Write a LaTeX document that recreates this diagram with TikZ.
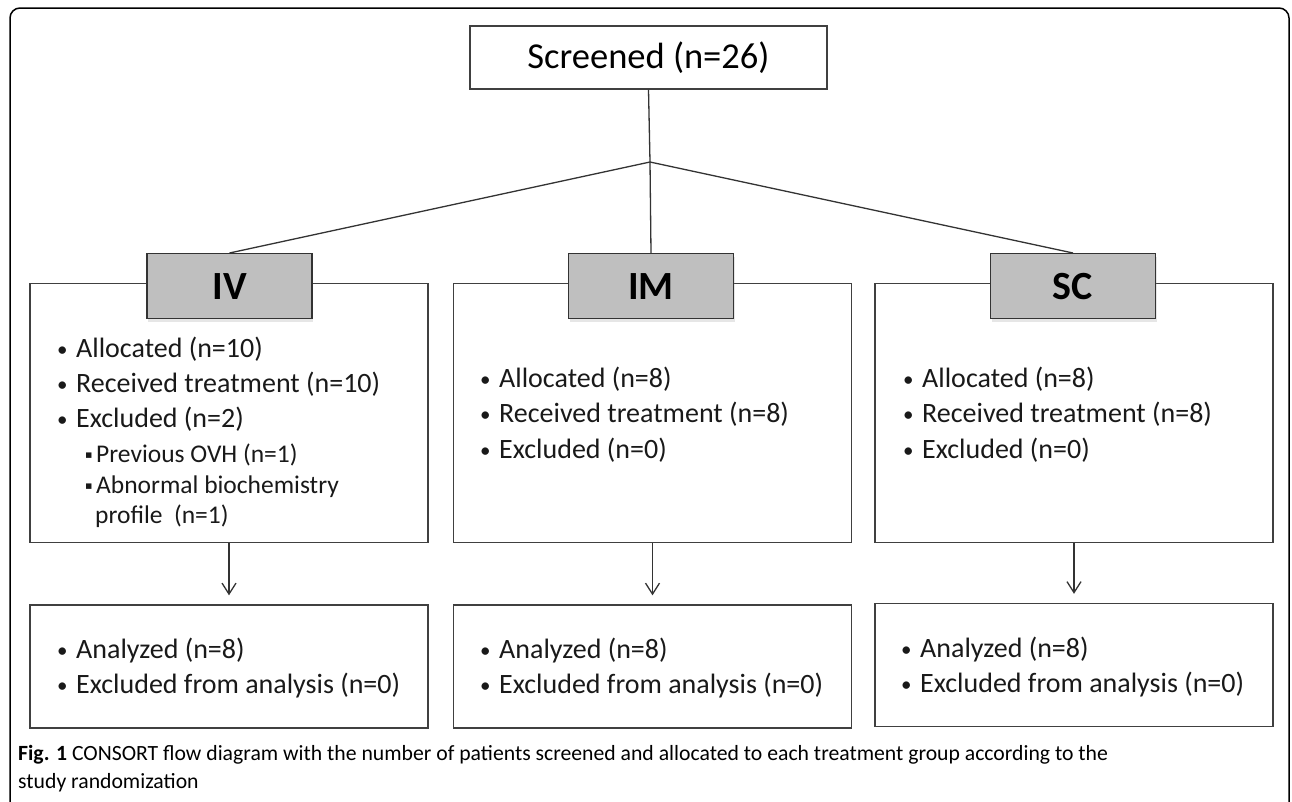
\documentclass[tikz,border=0pt]{standalone}
\usepackage{fontspec}
\setmainfont{Carlito}
\newfontfamily\symfont{DejaVu Sans}
\usetikzlibrary{arrows.meta,shadows}

\newcommand\itembul{\makebox[19pt][l]{\raisebox{1pt}{\scalebox{0.75}{\textbullet}}}}
\newcommand\subbul{\makebox[11pt][l]{\raisebox{4pt}{\symfont\fontsize{11}{11}\selectfont ▪}}}

\tikzset{
  box/.style={draw=black!75, line width=1.4pt, minimum width=398pt, inner sep=0pt},
  group/.style={box, minimum height=259pt},
  result/.style={box, minimum height=123pt},
  head/.style={draw=black!80, line width=1.4pt, fill=black!25, minimum width=165pt,
    minimum height=65pt, font=\fontsize{40}{40}\selectfont\bfseries,
    drop shadow={shadow xshift=1pt, shadow yshift=-3pt, opacity=0.2}},
  item/.style={anchor=base west, inner sep=0pt, text=black!90, font=\fontsize{28}{30}\selectfont},
  subitem/.style={item, font=\fontsize{25.5}{26}\selectfont},
  caption/.style={item, text=black, font=\fontsize{21.7}{22}\selectfont},
  link/.style={draw=black!80, line width=1.3pt},
}

\begin{document}
\begin{tikzpicture}[x=1pt, y=-1pt]
    \useasboundingbox (0,0) rectangle (1292,801);
    \clip (0,0) rectangle (1292,801);
    % outer frame
    \draw[line width=1.5pt, rounded corners=10pt] (10,8) rectangle (1289,815);

    % Screening
    \node[box, minimum width=357pt, minimum height=63pt, font=\fontsize{36.5}{36}\selectfont] (screen) at (648.5,57.5) {Screened (n=26)};
    \coordinate (split) at (650,162);

    % Group boxes
    \node[group] (ivbox) at (229,413) {};
    \node[group] (imbox) at (652.5,413) {};
    \node[group] (scbox) at (1074,413) {};

    % Branches
    \draw[link] (screen.south) -- (split);
    \draw[link] (split) -- (229.5,253) coordinate (ivtop);
    \draw[link] (split) -- (651,253) coordinate (imtop);
    \draw[link] (split) -- (1073,253) coordinate (sctop);

    % Group headers
    \node[head, anchor=north] (iv) at (ivtop) {IV};
    \node[head, anchor=north] (im) at (imtop) {IM};
    \node[head, anchor=north] (sc) at (sctop) {SC};

    % IV group
    \foreach \t [count=\i] in {Allocated (n=10), Received treatment (n=10), Excluded (n=2)}
        \node[item] (iv\i) at (57,322+35*\i) {\itembul\t};
    \node[subitem] (ivx1) at (85,462) {\subbul Previous OVH (n=1)};
    \node[subitem] (ivx2) at (85,493) {\subbul Abnormal biochemistry};
    \node[subitem] (ivx3) at (95,523) {profile \ (n=1)};

    % IM group
    \foreach \t [count=\i] in {Allocated (n=8), Received treatment (n=8), Excluded (n=0)}
        \node[item] (im\i) at (480,351.5+35.5*\i) {\itembul\t};

    % SC group
    \foreach \t [count=\i] in {Allocated (n=8), Received treatment (n=8), Excluded (n=0)}
        \node[item] (sc\i) at (903,351.5+35.5*\i) {\itembul\t};

    % Analysis boxes
    \node[result] (ivres) at (229,666.5) {};
    \node[result] (imres) at (652.5,666.5) {};
    \node[result] (scres) at (1074,665) {};
    \node[item] (iva) at (57,658) {\itembul Analyzed (n=8)};
    \node[item] (ivb) at (57,693) {\itembul Excluded from analysis (n=0)};
    \node[item] (ima) at (480,658) {\itembul Analyzed (n=8)};
    \node[item] (imb) at (480,693) {\itembul Excluded from analysis (n=0)};
    \node[item] (sca) at (901,657) {\itembul Analyzed (n=8)};
    \node[item] (scb) at (901,692) {\itembul Excluded from analysis (n=0)};

    % Arrows
    \foreach \g in {iv,im,sc}
        \draw[link, -{Straight Barb[length=11pt,width=14pt]}, shorten >=9pt] (\g box.south) -- (\g res.north);

    % Caption
    \node[caption] (cap1) at (18,760) {\textbf{Fig. 1} CONSORT flow diagram with the number of patients screened and allocated to each treatment group according to the};
    \node[caption] (cap2) at (18,788) {study randomization};
\end{tikzpicture}
\end{document}
